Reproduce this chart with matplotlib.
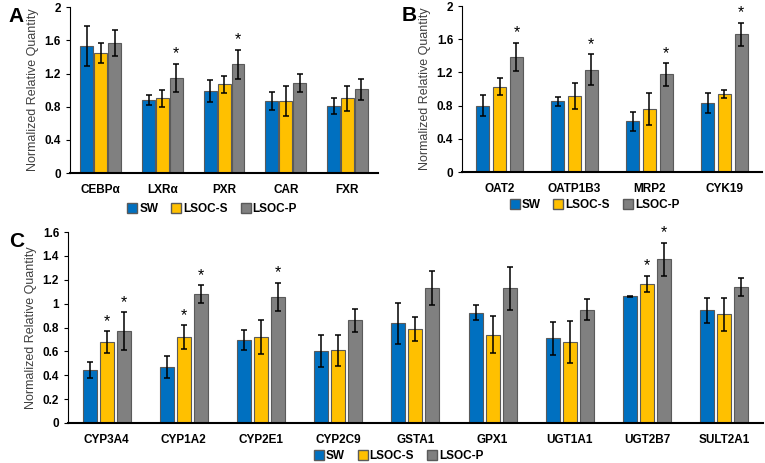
import numpy as np
import matplotlib.pyplot as plt
from matplotlib.ticker import FuncFormatter
from matplotlib.lines import Line2D

plt.rcParams['font.family'] = ['Liberation Sans', 'DejaVu Sans']

groups = ['SW', 'LSOC-S', 'LSOC-P']
colors = ['#0070C0', '#FFC000', '#808080']

# panel A
genes_a = ['CEBPα', 'LXRα', 'PXR', 'CAR', 'FXR']
sw_a = [1.53, 0.88, 0.99, 0.87, 0.81]
s_a = [1.45, 0.90, 1.07, 0.87, 0.90]
p_a = [1.57, 1.15, 1.31, 1.09, 1.01]
sw_a_err = [0.24, 0.06, 0.13, 0.11, 0.10]
s_a_err = [0.12, 0.10, 0.10, 0.18, 0.15]
p_a_err = [0.16, 0.17, 0.18, 0.11, 0.13]
star_a = [[], [2], [2], [], []]

# panel B
genes_b = ['OAT2', 'OATP1B3', 'MRP2', 'CYK19']
sw_b = [0.80, 0.85, 0.61, 0.83]
s_b = [1.03, 0.92, 0.76, 0.94]
p_b = [1.39, 1.235, 1.175, 1.66]
sw_b_err = [0.125, 0.05, 0.11, 0.12]
s_b_err = [0.10, 0.155, 0.19, 0.045]
p_b_err = [0.17, 0.19, 0.135, 0.14]
star_b = [[2], [2], [2], [2]]

# panel C
genes_c = ['CYP3A4', 'CYP1A2', 'CYP2E1', 'CYP2C9', 'GSTA1', 'GPX1', 'UGT1A1', 'UGT2B7', 'SULT2A1']
sw_c = [0.444, 0.47, 0.695, 0.60, 0.835, 0.925, 0.71, 1.06, 0.944]
s_c = [0.68, 0.72, 0.72, 0.61, 0.79, 0.74, 0.68, 1.167, 0.91]
p_c = [0.77, 1.08, 1.055, 0.86, 1.13, 1.13, 0.95, 1.37, 1.14]
sw_c_err = [0.067, 0.09, 0.085, 0.135, 0.17, 0.06, 0.14, 0.005, 0.105]
s_c_err = [0.09, 0.10, 0.14, 0.13, 0.10, 0.155, 0.175, 0.067, 0.14]
p_c_err = [0.16, 0.075, 0.12, 0.095, 0.14, 0.18, 0.085, 0.14, 0.075]
star_c = [[1, 2], [1, 2], [2], [], [], [], [], [1, 2], []]


def panel(ax, genes, vals, errs, stars, ymax, step, letter, legend_xy, bw, off):
    x = np.arange(len(genes))
    for i, (v, e) in enumerate(zip(vals, errs)):
        ax.bar(x + (i - 1) * off, v, bw, yerr=e, color=colors[i],
               edgecolor='#5a5a5a', linewidth=0.8,
               error_kw=dict(ecolor='black', elinewidth=1.1, capsize=2, capthick=1.1))
    for j, s in enumerate(stars):
        for i in s:
            top = vals[i][j] + errs[i][j]
            ax.text(j + (i - 1) * off, top + ymax * 0.012, '*', ha='center', va='bottom',
                    fontsize=11.5)
    ax.set_xlim(-0.5, len(genes) - 0.5)
    ax.set_ylim(0, ymax)
    ax.set_yticks(np.arange(0, ymax + 1e-9, step))
    ax.yaxis.set_major_formatter(FuncFormatter(lambda v, p: '%g' % round(v, 2)))
    ax.set_xticks(x)
    ax.set_xticklabels(genes, fontweight='bold', fontsize=8.5)
    for t in ax.get_yticklabels():
        t.set_fontweight('bold')
        t.set_fontsize(8.5)
    ax.tick_params(axis='x', length=0, pad=8)
    ax.tick_params(axis='y', length=3, color='black', width=0.8)
    ax.spines['top'].set_visible(False)
    ax.spines['right'].set_visible(False)
    ax.spines['bottom'].set_linewidth(1.5)
    ax.spines['left'].set_linewidth(0.8)
    ax.set_ylabel('Normalized Relative Quantity', fontsize=9, color='#404040')
    ax.text(-0.2 if letter != 'C' else -0.085, 1.0, letter, transform=ax.transAxes,
            fontsize=15, fontweight='bold', va='top', ha='left')
    handles = [Line2D([], [], marker='s', linestyle='none', markersize=6.5,
                      markerfacecolor=c, markeredgecolor='#5a5a5a') for c in colors]
    ax.legend(handles, groups, loc='center', bbox_to_anchor=legend_xy, ncol=3,
              frameon=False, prop=dict(weight='bold', size=8.5), handletextpad=0.1,
              columnspacing=1.0, handlelength=1.0, borderpad=0.1)


fig = plt.figure(figsize=(7.65, 4.63), dpi=100)
ax_a = fig.add_axes([0.0915, 0.626, 0.403, 0.3585])
ax_b = fig.add_axes([0.604, 0.6285, 0.392, 0.3585])
ax_c = fig.add_axes([0.089, 0.0864, 0.908, 0.4125])

panel(ax_a, genes_a, [sw_a, s_a, p_a], [sw_a_err, s_a_err, p_a_err], star_a, 2.0, 0.4, 'A',
      (0.46, -0.215), 0.21, 0.225)
panel(ax_b, genes_b, [sw_b, s_b, p_b], [sw_b_err, s_b_err, p_b_err], star_b, 2.0, 0.4, 'B',
      (0.44, -0.2), 0.175, 0.225)
panel(ax_c, genes_c, [sw_c, s_c, p_c], [sw_c_err, s_c_err, p_c_err], star_c, 1.6, 0.2, 'C',
      (0.475, -0.175), 0.18, 0.22)

fig.savefig('out.png', dpi=100)
